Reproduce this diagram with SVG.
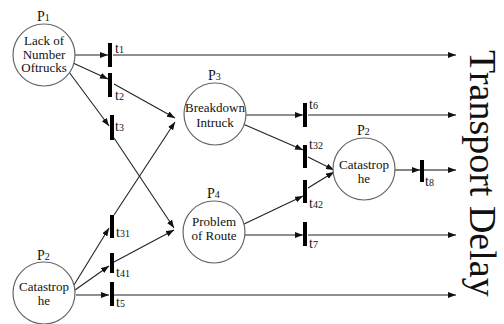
<svg xmlns="http://www.w3.org/2000/svg" width="504" height="324" viewBox="0 0 504 324">
<style>
.pl{fill:#fff;stroke:#666;stroke-width:1.2}
.tr{fill:#000}
.e{stroke:#222;stroke-width:1.1;fill:none;marker-end:url(#ah)}
text{font-family:'Liberation Serif','Times New Roman',serif;fill:#111}
.tx{font-size:13px;text-anchor:middle}
.lb{font-size:14px}
.sb{font-size:10px}
</style>
<defs>
<marker id="ah" markerUnits="userSpaceOnUse" markerWidth="9" markerHeight="7" refX="8" refY="3" orient="auto">
<path d="M0,0 L8,3 L0,6 z" fill="#111"/>
</marker>
</defs>
<g id="connectors">
<line class="e" x1="75" y1="55" x2="108" y2="55"/>
<line class="e" x1="113" y1="55" x2="456" y2="55"/>
<line class="e" x1="73" y1="63" x2="108" y2="79"/>
<line class="e" x1="69" y1="72" x2="109" y2="126"/>
<line class="e" x1="114" y1="84" x2="175" y2="118"/>
<line class="e" x1="114" y1="138" x2="174" y2="228"/>
<line class="e" x1="114" y1="215" x2="175" y2="122"/>
<line class="e" x1="114" y1="262" x2="174" y2="230"/>
<line class="e" x1="74" y1="285" x2="109" y2="228"/>
<line class="e" x1="75" y1="290" x2="109" y2="266"/>
<line class="e" x1="76" y1="295" x2="109" y2="295"/>
<line class="e" x1="114" y1="295" x2="456" y2="295"/>
<line class="e" x1="246" y1="115" x2="303" y2="115"/>
<line class="e" x1="308" y1="115" x2="456" y2="115"/>
<line class="e" x1="243" y1="124" x2="303" y2="150"/>
<line class="e" x1="242" y1="225" x2="303" y2="196"/>
<line class="e" x1="245" y1="235" x2="303" y2="235"/>
<line class="e" x1="308" y1="235" x2="456" y2="235"/>
<line class="e" x1="308" y1="157" x2="334" y2="170"/>
<line class="e" x1="308" y1="188" x2="334" y2="172"/>
<line class="e" x1="395" y1="170" x2="420" y2="170"/>
<line class="e" x1="424" y1="170" x2="456" y2="170"/>
</g>
<g id="P1">
<circle class="pl" cx="44" cy="55" r="31"/>
<text class="lb" x="37" y="21">P<tspan class="sb">1</tspan></text>
<text class="tx" x="44" y="45">Lack of</text>
<text class="tx" x="44" y="58.5">Number</text>
<text class="tx" x="44" y="72">Oftrucks</text>
</g>
<g id="P2a">
<circle class="pl" cx="44" cy="293" r="31"/>
<text class="lb" x="37" y="260">P<tspan class="sb">2</tspan></text>
<text class="tx" x="44" y="291">Catastrop</text>
<text class="tx" x="44" y="305">he</text>
</g>
<g id="P3">
<circle class="pl" cx="215" cy="114" r="31"/>
<text class="lb" x="208" y="80">P<tspan class="sb">3</tspan></text>
<text class="tx" x="215" y="112">Breakdown</text>
<text class="tx" x="215" y="127">Intruck</text>
</g>
<g id="P4">
<circle class="pl" cx="214" cy="232" r="31"/>
<text class="lb" x="207" y="198">P<tspan class="sb">4</tspan></text>
<text class="tx" x="214" y="226">Problem</text>
<text class="tx" x="214" y="240">of Route</text>
</g>
<g id="P2b">
<circle class="pl" cx="364" cy="169" r="31"/>
<text class="lb" x="357" y="135">P<tspan class="sb">2</tspan></text>
<text class="tx" x="364" y="169">Catastrop</text>
<text class="tx" x="364" y="183">he</text>
</g>
<g id="t1"><rect class="tr" x="108" y="43" width="4" height="24"/><text class="lb" x="115" y="53">t<tspan class="sb">1</tspan></text></g>
<g id="t2"><rect class="tr" x="108" y="73" width="4" height="24"/><text class="lb" x="115" y="100">t<tspan class="sb">2</tspan></text></g>
<g id="t3"><rect class="tr" x="110" y="115" width="4" height="25"/><text class="lb" x="115" y="131">t<tspan class="sb">3</tspan></text></g>
<g id="t31"><rect class="tr" x="110" y="215" width="4" height="23"/><text class="lb" x="116" y="237">t<tspan class="sb">31</tspan></text></g>
<g id="t41"><rect class="tr" x="110" y="253" width="4" height="20"/><text class="lb" x="116" y="277">t<tspan class="sb">41</tspan></text></g>
<g id="t5"><rect class="tr" x="110" y="282" width="4" height="24"/><text class="lb" x="116" y="307">t<tspan class="sb">5</tspan></text></g>
<g id="t6"><rect class="tr" x="303" y="103" width="4" height="24"/><text class="lb" x="309" y="109">t<tspan class="sb">6</tspan></text></g>
<g id="t32"><rect class="tr" x="303" y="145" width="4" height="23"/><text class="lb" x="309" y="149">t<tspan class="sb">32</tspan></text></g>
<g id="t42"><rect class="tr" x="303" y="180" width="4" height="23"/><text class="lb" x="309" y="208">t<tspan class="sb">42</tspan></text></g>
<g id="t7"><rect class="tr" x="303" y="222" width="4" height="24"/><text class="lb" x="309" y="248">t<tspan class="sb">7</tspan></text></g>
<g id="t8"><rect class="tr" x="420" y="160" width="4" height="22"/><text class="lb" x="425" y="186">t<tspan class="sb">8</tspan></text></g>
<text transform="translate(470,50) rotate(90)" style="font-size:38px">Transport Delay</text>
</svg>
